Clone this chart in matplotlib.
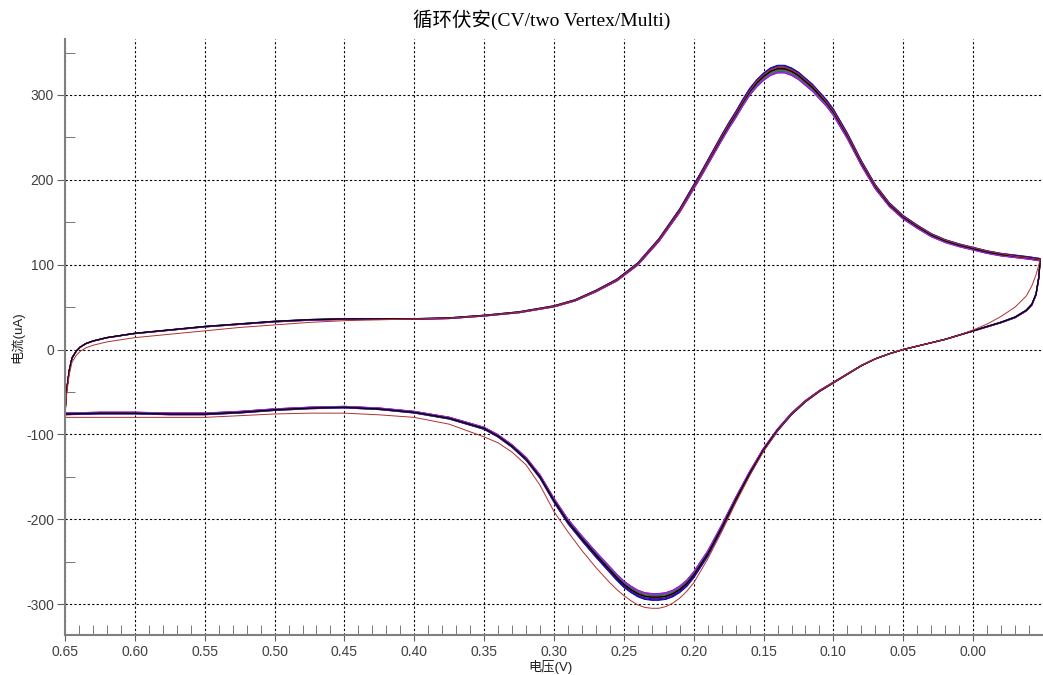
import numpy as np
import matplotlib
matplotlib.use("Agg")
import matplotlib.pyplot as plt
from matplotlib.ticker import MultipleLocator, FixedLocator, FormatStrFormatter

plt.rcParams['axes.unicode_minus'] = False

# potential (V) and current (uA)
# upper branch: scan from 0.65 V down to the lower vertex
fwd_v = [0.650, 0.649, 0.647, 0.645, 0.642, 0.639, 0.635, 0.630, 0.620, 0.600,
         0.575, 0.550, 0.525, 0.500, 0.475, 0.450, 0.425, 0.400, 0.375, 0.350,
         0.325, 0.300, 0.285, 0.270, 0.255, 0.240, 0.225, 0.210, 0.195, 0.180,
         0.175, 0.170, 0.165, 0.160, 0.155, 0.150, 0.145, 0.140, 0.135, 0.130,
         0.125, 0.120, 0.115, 0.110, 0.105, 0.100, 0.090, 0.080, 0.070, 0.060,
         0.050, 0.040, 0.030, 0.020, 0.010, 0.000, -0.010, -0.020, -0.030, -0.040,
         -0.048]
fwd_i = [-76, -50, -25, -10, -2, 3, 7, 10, 14, 19,
         23, 27, 30, 33, 35, 36, 36, 36, 37, 40,
         44, 51, 58, 69, 82, 101, 129, 164, 206, 250,
         264, 277, 291, 304, 314, 322, 328, 331, 331, 328,
         323, 316, 309, 300, 291, 280, 252, 220, 192, 171,
         156, 145, 135, 128, 123, 119, 115, 112, 110, 108,
         106]
# lower branch: scan back from the vertex to 0.65 V
rev_v = [-0.048, -0.047, -0.045, -0.042, -0.038, -0.030, -0.020, -0.010, 0.000, 0.010,
         0.020, 0.030, 0.040, 0.050, 0.060, 0.070, 0.080, 0.090, 0.100, 0.110,
         0.120, 0.130, 0.140, 0.150, 0.160, 0.170, 0.180, 0.190, 0.200, 0.205,
         0.210, 0.215, 0.220, 0.225, 0.230, 0.235, 0.240, 0.245, 0.250, 0.255,
         0.260, 0.270, 0.280, 0.290, 0.300, 0.310, 0.320, 0.330, 0.340, 0.350,
         0.375, 0.400, 0.425, 0.450, 0.475, 0.500, 0.525, 0.550, 0.575, 0.600,
         0.625, 0.650]
rev_i = [106, 85, 65, 53, 46, 38, 32, 27, 22, 17,
         12, 8, 4, 0, -5, -11, -19, -29, -39, -49,
         -61, -76, -95, -118, -146, -177, -210, -241, -266, -276,
         -283, -288, -291, -292, -292, -291, -288, -283, -277, -269,
         -260, -242, -223, -203, -178, -150, -129, -114, -102, -93,
         -81, -74, -70, -68, -69, -71, -74, -76, -76, -75,
         -75, -76]

# first cycle (thin brown-red trace) differs a little
first_fwd_i = [-78, -55, -30, -15, -7, -2, 2, 5, 9, 14,
               18, 22, 26, 29, 32, 34, 35, 36, 37, 40,
               44, 51, 58, 69, 82, 101, 129, 164, 206, 251,
               265, 278, 292, 305, 316, 324, 330, 333, 333, 330,
               325, 318, 311, 302, 292, 281, 253, 221, 193, 172,
               157, 146, 136, 129, 124, 120, 116, 113, 110, 108,
               106]
first_rev_i = [106, 100, 88, 75, 63, 50, 39, 30, 23, 17,
               12, 8, 4, 0, -5, -11, -19, -29, -39, -49,
               -61, -76, -96, -120, -149, -181, -215, -247, -275, -285,
               -293, -299, -303, -305, -305, -304, -301, -296, -290, -283,
               -275, -257, -237, -215, -191, -160, -136, -121, -110, -103,
               -88, -80, -77, -75, -75, -76, -78, -80, -80, -80,
               -80, -80]

# repeated cycles: relative size of each cycle and its colour
cycle_scale = [1.012, 0.985, 1.008, 0.990, 1.004, 0.995, 1.010, 0.988,
               1.002, 0.993, 1.006, 0.998, 0.986, 1.000]
cycle_colors = ['#000080', '#800080', '#FFD700', '#008000', '#00CED1', '#FF8C00',
                '#0000FF', '#FF00FF', '#808000', '#008080', '#4B0082', '#800000',
                '#8A2BE2', '#000000']

v_cycle = np.array(fwd_v + rev_v)
i_cycle = np.array(fwd_i + rev_i)
i_first = np.array(first_fwd_i + first_rev_i)

fig = plt.figure(figsize=(10.43, 6.75), dpi=100)
ax = fig.add_axes([65/1043, 40/675, 978/1043, 596/675])

for s, c in zip(cycle_scale, cycle_colors):
    ax.plot(v_cycle, i_cycle * s, color=c, lw=0.8)
ax.plot(v_cycle, i_first, color='#B03030', lw=0.7)

ax.set_xlim(0.65, -0.050)
ax.set_ylim(-336.5, 366)

# axes look
for side in ['top', 'right']:
    ax.spines[side].set_visible(False)
for side in ['left', 'bottom']:
    ax.spines[side].set_color('#808080')
    ax.spines[side].set_linewidth(1.5)

ax.xaxis.set_major_locator(FixedLocator([0.65, 0.60, 0.55, 0.50, 0.45, 0.40, 0.35,
                                         0.30, 0.25, 0.20, 0.15, 0.10, 0.05, 0.00]))
ax.xaxis.set_minor_locator(MultipleLocator(0.01))
ax.xaxis.set_major_formatter(FormatStrFormatter('%.2f'))
ax.yaxis.set_major_locator(MultipleLocator(100))
ax.yaxis.set_minor_locator(MultipleLocator(50))
ax.tick_params(axis='x', which='major', direction='out', length=4, color='#606060',
               labelsize=10, labelcolor='#404040', pad=3)
ax.tick_params(axis='x', which='minor', direction='in', length=7, color='#606060')
ax.tick_params(axis='y', which='major', direction='out', length=6, color='#606060',
               labelsize=10, labelcolor='#404040', pad=2)
ax.tick_params(axis='y', which='minor', direction='in', length=7, color='#606060')
for lab in ax.get_xticklabels() + ax.get_yticklabels():
    lab.set_family(['Liberation Sans', 'DejaVu Sans'])

ax.grid(True, which='major', color='black', linestyle=(0, (2, 2)), linewidth=0.8)
ax.set_axisbelow(True)

cjk = ['Liberation Sans', 'Noto Sans CJK SC']
fig.text(542/1043, 1 - 20/675, '循环伏安(CV/two Vertex/Multi)', ha='center', va='center',
         fontsize=14, family=['Liberation Serif', 'Noto Sans CJK SC'])
fig.text(550/1043, 1 - 667/675, '电压(V)', ha='center', va='center', fontsize=9.5,
         family=cjk, color='#202020')
fig.text(17/1043, 1 - 337/675, '电流(uA)', ha='center', va='center', rotation=90,
         fontsize=9.5, family=cjk, color='#202020')

fig.savefig('out.png', dpi=100)
